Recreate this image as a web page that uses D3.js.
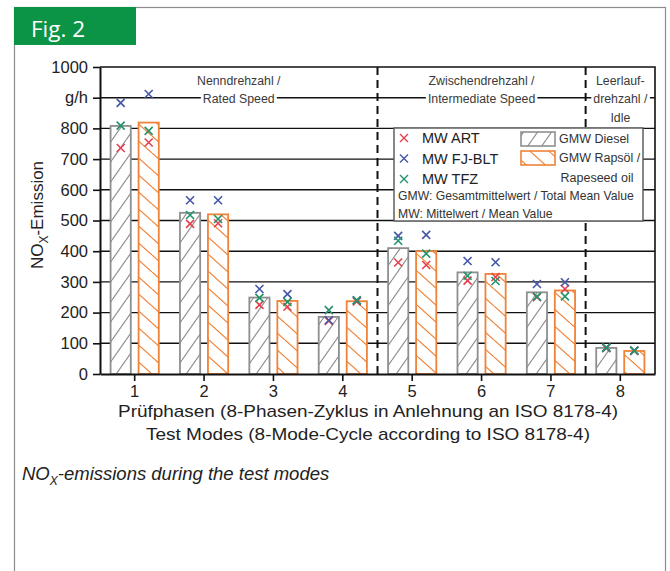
<!DOCTYPE html>
<html>
<head>
<meta charset="utf-8">
<script src="https://cdn.jsdelivr.net/npm/d3@7"></script>
<style>
body { margin: 0; background: #fff; }
text { font-family: "Liberation Sans", Arial, sans-serif; }
</style>
</head>
<body>
<div id="main_div"></div>
<script>
// test modes (x axis)
const modes = ["1", "2", "3", "4", "5", "6", "7", "8"];

// total mean values (bars), g/h
const gmwDiesel = [808, 525, 249, 186, 410, 331, 266, 85];
const gmwRape = [819, 520, 238, 237, 400, 326, 272, 75];

// mean values per lab (crosses), g/h
const artDiesel = [736, 489, 225, 173, 363, 304, 250, 84];
const artRape = [754, 491, 219, 236, 355, 316, 277, 75];
const fjDiesel = [883, 566, 277, 175, 450, 368, 293, 86];
const fjRape = [912, 566, 260, 240, 453, 364, 299, 76];
const tfzDiesel = [809, 518, 248, 208, 434, 320, 252, 86];
const tfzRape = [792, 505, 235, 240, 392, 303, 253, 76];

const yTicks = [0, 100, 200, 300, 400, 500, 600, 700, 800, 900, 1000];
const yTickLabels = ["0", "100", "200", "300", "400", "500", "600", "700", "800", "g/h", "1000"];

const phaseLines = [["Nenndrehzahl /", "Rated Speed"], ["Zwischendrehzahl /", "Intermediate Speed"], ["Leerlauf-", "drehzahl /", "Idle"]];
const phaseModes = [["1", "4"], ["5", "7"], ["8", "8"]];

const labNames = ["MW ART", "MW FJ-BLT", "MW TFZ"];
const labColors = ["#e5404e", "#4557a6", "#23946a"];

const W = 670, H = 571;
const svg = d3.select("#main_div").append("svg")
    .attr("width", W).attr("height", H);

const defs = svg.append("defs");
function hatch(id, color, forward, w, h) {
    const p = defs.append("pattern")
        .attr("id", id)
        .attr("patternUnits", "userSpaceOnUse")
        .attr("width", w).attr("height", h);
    p.append("rect").attr("width", w).attr("height", h).attr("fill", "#fff");
    let d = "";
    [-w, 0, w].forEach(o => {
        d += forward ? `M${o},${h}L${o + w},0` : `M${o},0L${o + w},${h}`;
    });
    p.append("path").attr("d", d)
        .attr("stroke", color).attr("stroke-width", 1.2).attr("fill", "none");
}
hatch("hDiesel", "#8f8f8f", true, 14, 20);
hatch("hRape", "#f08338", false, 19, 17);

// outer frame and figure tag
svg.append("rect").attr("x", 14.5).attr("y", 7.5).attr("width", 651).attr("height", 620)
    .attr("fill", "none").attr("stroke", "#8c8c8c").attr("stroke-width", 1.2);
svg.append("rect").attr("x", 14).attr("y", 7).attr("width", 122).attr("height", 38).attr("fill", "#0b9446");
svg.append("text").attr("x", 31).attr("y", 37).text("Fig. 2")
    .style("font-family", "'Open Sans', sans-serif").attr("font-size", 22.5).attr("fill", "#fff");

const L = 100, R = 655, T = 67, B = 374;

const x = d3.scaleBand().domain(modes).range([L, R]);
const xFuel = d3.scaleBand().domain(["diesel", "rape"]).range([0, x.bandwidth()])
    .paddingInner(0.214).paddingOuter(0.346);
const y = d3.scaleLinear().domain([0, 1000]).range([B, T]);

const g = svg.append("g");

// grid
g.selectAll(".grid").data(yTicks.filter(d => d > 0 && d < 1000)).join("line")
    .attr("x1", L).attr("x2", R).attr("y1", d => y(d)).attr("y2", d => y(d))
    .attr("stroke", "#111").attr("stroke-width", 1.4);

// phase dividers
phaseModes.slice(1).forEach(pm => {
    const xx = x(pm[0]);
    g.append("line").attr("x1", xx).attr("x2", xx).attr("y1", T).attr("y2", B)
        .attr("stroke", "#111").attr("stroke-width", 2).attr("stroke-dasharray", "8,5");
});

// bars
function bars(vals, key, fill, stroke) {
    g.selectAll(".bar-" + key).data(vals).join("rect")
        .attr("x", (d, i) => x(modes[i]) + xFuel(key) + 0.9)
        .attr("width", xFuel.bandwidth() - 1.8)
        .attr("y", d => y(d))
        .attr("height", d => B - y(d))
        .attr("fill", fill).attr("stroke", stroke).attr("stroke-width", 1.8);
}
bars(gmwDiesel, "diesel", "url(#hDiesel)", "#8f8f8f");
bars(gmwRape, "rape", "url(#hRape)", "#f08338");

// crosses
const cross = "M-4,-4L4,4M-4,4L4,-4";
function crosses(vals, key, color) {
    g.selectAll(null).data(vals).join("path")
        .attr("transform", (d, i) => `translate(${x(modes[i]) + xFuel(key) + xFuel.bandwidth() / 2},${y(d)})`)
        .attr("d", cross).attr("stroke", color).attr("stroke-width", 1.6).attr("fill", "none");
}
crosses(artDiesel, "diesel", labColors[0]);
crosses(artRape, "rape", labColors[0]);
crosses(fjDiesel, "diesel", labColors[1]);
crosses(fjRape, "rape", labColors[1]);
crosses(tfzDiesel, "diesel", labColors[2]);
crosses(tfzRape, "rape", labColors[2]);

// frame
g.append("path").attr("d", `M${L},${T}H${R}V${B}`).attr("fill", "none")
    .attr("stroke", "#111").attr("stroke-width", 1.6);

// axes
const yAxis = svg.append("g").attr("transform", `translate(${L},0)`)
    .call(d3.axisLeft(y).tickValues(yTicks).tickFormat((d, i) => yTickLabels[i])
        .tickSize(7).tickSizeOuter(0).tickPadding(5));
const xAxis = svg.append("g").attr("transform", `translate(0,${B})`)
    .call(d3.axisBottom(x).tickSize(7).tickSizeOuter(0).tickPadding(4));
[yAxis, xAxis].forEach(a => {
    a.select(".domain").attr("stroke", "#111").attr("stroke-width", 2);
    a.selectAll(".tick line").attr("stroke", "#111").attr("stroke-width", 1.6);
    a.selectAll("text").attr("font-size", 16.5).attr("fill", "#222")
        .style("font-family", "'Liberation Sans', Arial, sans-serif");
});

// phase labels
const lineY = [81, 99, 118];
phaseLines.forEach((lines, k) => {
    const cx = (x(phaseModes[k][0]) + x(phaseModes[k][1]) + x.bandwidth()) / 2;
    lines.forEach((s, j) => {
        const t = svg.append("text").attr("x", cx).attr("y", lineY[j]).attr("dy", "0.35em")
            .attr("text-anchor", "middle").attr("font-size", 12.3).attr("fill", "#3a3a3a").text(s);
        if (j === 1) {
            const bb = t.node().getBBox();
            svg.insert("rect", () => t.node()).attr("x", bb.x - 2).attr("y", bb.y + 2)
                .attr("width", bb.width + 4).attr("height", bb.height - 4).attr("fill", "#fff");
        }
    });
});

// legend
const lg = svg.append("g");
lg.append("rect").attr("x", 394).attr("y", 128).attr("width", 249).attr("height", 93)
    .attr("fill", "#fff").attr("stroke", "#555").attr("stroke-width", 1.4);
labNames.forEach((n, i) => {
    const yy = 138 + i * 20.5;
    lg.append("path").attr("transform", `translate(404,${yy})`).attr("d", cross)
        .attr("stroke", labColors[i]).attr("stroke-width", 1.4).attr("fill", "none");
    lg.append("text").attr("x", 422).attr("y", yy).attr("dy", "0.36em")
        .attr("font-size", 14.5).attr("fill", "#222").text(n);
});
lg.append("rect").attr("x", 521).attr("y", 132).attr("width", 34).attr("height", 14)
    .attr("fill", "url(#hDiesel)").attr("stroke", "#8f8f8f").attr("stroke-width", 1.6);
lg.append("rect").attr("x", 521).attr("y", 151).attr("width", 34).attr("height", 14)
    .attr("fill", "url(#hRape)").attr("stroke", "#f08338").attr("stroke-width", 1.6);
lg.append("text").attr("x", 559).attr("y", 139).attr("dy", "0.35em").attr("font-size", 12.5).attr("fill", "#333").text("GMW Diesel");
lg.append("text").attr("x", 559).attr("y", 158).attr("dy", "0.35em").attr("font-size", 12.5).attr("fill", "#333").text("GMW Rapsöl /");
lg.append("text").attr("x", 597).attr("y", 178).attr("dy", "0.35em").attr("text-anchor", "middle").attr("font-size", 12.5).attr("fill", "#333").text("Rapeseed oil");
lg.append("text").attr("x", 398).attr("y", 196).attr("dy", "0.35em").attr("font-size", 12.2).attr("fill", "#333").text("GMW: Gesamtmittelwert / Total Mean Value");
lg.append("text").attr("x", 398).attr("y", 214).attr("dy", "0.35em").attr("font-size", 12.2).attr("fill", "#333").text("MW: Mittelwert / Mean Value");

// axis titles
const yt = svg.append("text").attr("transform", "translate(43,215) rotate(-90)")
    .attr("text-anchor", "middle").attr("font-size", 17).attr("fill", "#222");
yt.append("tspan").text("NO");
yt.append("tspan").attr("font-size", 12).attr("dy", 5).text("X");
yt.append("tspan").attr("dy", -5).text("-Emission");

svg.append("text").attr("x", 368).attr("y", 417).attr("text-anchor", "middle")
    .attr("font-size", 17).attr("textLength", 500).attr("lengthAdjust", "spacingAndGlyphs").attr("fill", "#222")
    .text("Prüfphasen (8-Phasen-Zyklus in Anlehnung an ISO 8178-4)");
svg.append("text").attr("x", 368).attr("y", 440).attr("text-anchor", "middle")
    .attr("font-size", 17).attr("textLength", 444).attr("lengthAdjust", "spacingAndGlyphs").attr("fill", "#222")
    .text("Test Modes (8-Mode-Cycle according to ISO 8178-4)");

// caption
const cap = svg.append("text").attr("x", 22).attr("y", 480)
    .attr("font-size", 18.5).attr("font-style", "italic").attr("fill", "#222");
cap.append("tspan").text("NO");
cap.append("tspan").attr("font-size", 12).attr("dy", 5).text("X");
cap.append("tspan").attr("dy", -5).text("-emissions during the test modes");
</script>
</body>
</html>
